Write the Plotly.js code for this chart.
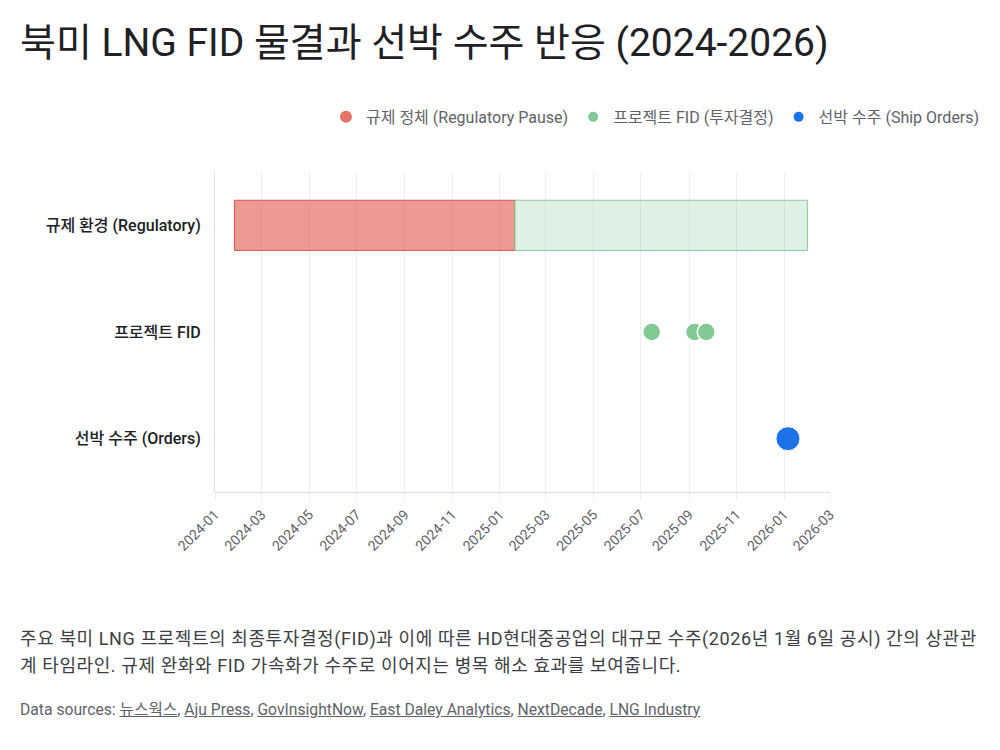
<!DOCTYPE html>
<html>
<head>
<meta charset="utf-8">
<script src="https://cdn.plot.ly/plotly-3.0.1.min.js"></script>
<style>
  html, body { margin: 0; padding: 0; background: #fff; }
  #wrap { position: relative; width: 1000px; height: 750px; overflow: hidden; }
  #chart { position: absolute; left: 0; top: 0; width: 1000px; height: 750px; }
  .caption { position: absolute; left: 20px; top: 625px; width: 962px; font-family: Roboto, "Noto Sans CJK KR", sans-serif; font-size: 18px; letter-spacing: 0.6px; line-height: 27px; color: #3c4043; word-break: break-all; }
  .sources { position: absolute; left: 20px; top: 697px; font-family: Roboto, "Noto Sans CJK KR", sans-serif; font-size: 15.7px; color: #5f6368; }
  .sources a { color: #5f6368; text-decoration: underline; }
</style>
</head>
<body>
<div id="wrap">
  <div id="chart"></div>
  <div class="caption" id="caption"></div>
  <div class="sources" id="sources"></div>
</div>
<script>
// ---- data ----
const categories = ['규제 환경 (Regulatory)', '프로젝트 FID', '선박 수주 (Orders)'];
const legendNames = ['규제 정체 (Regulatory Pause)', '프로젝트 FID (투자결정)', '선박 수주 (Ship Orders)'];
const phaseNames = ['규제 정체 (Regulatory Pause)', '규제 완화 (Deregulation)'];
const phaseStart = ['2024-01-26', '2025-01-20'];
const phaseEnd = ['2025-01-20', '2026-01-31'];
const fidDates = ['2025-07-15', '2025-09-08', '2025-09-23'];
const orderDates = ['2026-01-06'];
const xRange = ['2024-01-01', '2026-03-01'];
const titleText = '북미 LNG FID 물결과 선박 수주 반응 (2024-2026)';
const captionText = '주요 북미 LNG 프로젝트의 최종투자결정(FID)과 이에 따른 HD현대중공업의 대규모 수주(2026년 1월 6일 공시) 간의 상관관계 타임라인. 규제 완화와 FID 가속화가 수주로 이어지는 병목 해소 효과를 보여줍니다.';
const sourceNames = ['뉴스웍스', 'Aju Press', 'GovInsightNow', 'East Daley Analytics', 'NextDecade', 'LNG Industry'];

// ---- styles ----
const redFill = 'rgba(220,60,50,0.52)';
const redLine = 'rgba(220,70,65,0.9)';
const greenFill = 'rgba(129,201,149,0.25)';
const greenLine = 'rgba(129,201,149,0.9)';
const redDot = '#E57368';
const green = '#81C995';
const blue = '#1A73E8';
const FONT = 'Roboto, "Noto Sans CJK KR", sans-serif';

const durations = phaseStart.map((s, i) => Date.parse(phaseEnd[i]) - Date.parse(s));

const traces = [
  {
    type: 'bar', orientation: 'h',
    y: [categories[0]], base: [phaseStart[0]], x: [durations[0]],
    width: 0.47, name: phaseNames[0], showlegend: false,
    marker: { color: redFill, line: { color: redLine, width: 1 } },
    hoverinfo: 'name'
  },
  {
    type: 'bar', orientation: 'h',
    y: [categories[0]], base: [phaseStart[1]], x: [durations[1]],
    width: 0.47, name: phaseNames[1], showlegend: false,
    marker: { color: greenFill, line: { color: greenLine, width: 1 } },
    hoverinfo: 'name'
  },
  {
    type: 'scatter', mode: 'markers', x: [null], y: [null],
    name: legendNames[0], marker: { color: redDot, size: 15 }
  },
  {
    type: 'scatter', mode: 'markers',
    x: fidDates, y: fidDates.map(() => categories[1]),
    name: legendNames[1],
    marker: { color: green, size: 18, line: { color: '#fff', width: 1.5 } }
  },
  {
    type: 'scatter', mode: 'markers',
    x: orderDates, y: orderDates.map(() => categories[2]),
    name: legendNames[2],
    marker: { color: blue, size: 24, line: { color: '#fff', width: 1 } }
  }
];

const layout = {
  width: 1000, height: 750,
  paper_bgcolor: '#fff', plot_bgcolor: '#fff',
  font: { family: FONT, color: '#3c4043' },
  margin: { l: 215, r: 170, t: 172, b: 258 },
  barmode: 'overlay',
  title: {
    text: titleText,
    font: { size: 39, color: '#202124' },
    xref: 'container', yref: 'container',
    x: 0.02, xanchor: 'left', y: 0.943, yanchor: 'middle'
  },
  showlegend: true,
  legend: {
    orientation: 'h',
    xref: 'paper', yref: 'paper',
    x: 1.252, xanchor: 'right', y: 1.172, yanchor: 'middle',
    font: { size: 16, color: '#5f6368' },
    itemsizing: 'constant', itemwidth: 30, tracegroupgap: 0
  },
  xaxis: {
    type: 'date', range: xRange,
    dtick: 'M2', tick0: '2024-01-01', tickformat: '%Y-%m',
    tickangle: -45,
    tickfont: { size: 14, color: '#5f6368' },
    showgrid: true, gridcolor: '#eeeeee', gridwidth: 1,
    showline: true, linecolor: '#e0e0e0', linewidth: 1,
    ticks: 'outside', ticklen: 8, tickcolor: '#eeeeee',
    zeroline: false
  },
  yaxis: {
    type: 'category',
    categoryorder: 'array', categoryarray: categories,
    range: [2.5, -0.5],
    tickfont: { size: 16, color: '#202124', weight: 500 },
    showgrid: false,
    showline: true, linecolor: '#e0e0e0', linewidth: 1,
    ticks: 'outside', ticklen: 10, tickcolor: 'rgba(0,0,0,0)',
    zeroline: false
  },
  hovermode: 'closest'
};

Plotly.newPlot('chart', traces, layout, { displayModeBar: false, staticPlot: true });

document.getElementById('caption').textContent = captionText;
document.getElementById('sources').innerHTML = 'Data sources: ' +
  sourceNames.map(n => '<a href="#">' + n + '</a>').join(', ');
</script>
</body>
</html>
